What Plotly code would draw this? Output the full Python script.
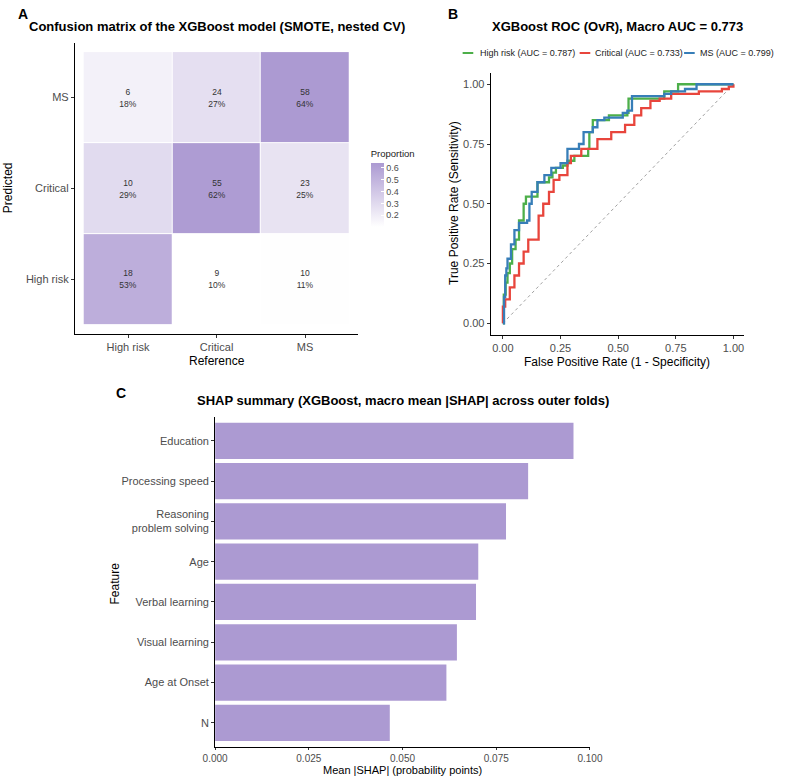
import plotly.graph_objects as go

W, H = 787, 777
def px(x): return x / W
def py(y): return 1 - y / H

# ---------------- data ----------------
classes = ["High risk", "Critical", "MS"]
# counts[predicted][reference]; predicted rows bottom->top: High risk, Critical, MS
counts_high = [18, 9, 10]
counts_critical = [10, 55, 23]
counts_ms = [6, 24, 58]

roc_high_fpr = [0, 0.004, 0.012, 0.02, 0.03, 0.04, 0.055, 0.07, 0.09, 0.1, 0.15, 0.2, 0.215, 0.23, 0.26, 0.28, 0.31, 0.37, 0.375, 0.39, 0.46, 0.54, 0.545, 0.70, 0.76, 1.0]
roc_high_tpr = [0, 0.12, 0.17, 0.21, 0.25, 0.31, 0.35, 0.43, 0.50, 0.53, 0.59, 0.61, 0.63, 0.65, 0.66, 0.68, 0.70, 0.73, 0.80, 0.85, 0.87, 0.88, 0.94, 0.97, 1.0, 1.0]
roc_crit_fpr = [0, 0, 0.01, 0.03, 0.05, 0.07, 0.09, 0.11, 0.155, 0.175, 0.2, 0.22, 0.245, 0.28, 0.295, 0.34, 0.41, 0.47, 0.53, 0.57, 0.60, 0.64, 0.68, 0.73, 0.85, 0.95, 0.98, 1.0]
roc_crit_tpr = [0, 0.07, 0.10, 0.15, 0.20, 0.25, 0.30, 0.35, 0.45, 0.50, 0.55, 0.60, 0.62, 0.67, 0.70, 0.73, 0.77, 0.80, 0.83, 0.87, 0.90, 0.93, 0.94, 0.96, 0.97, 0.98, 0.99, 1.0]
roc_ms_fpr = [0, 0.005, 0.01, 0.015, 0.02, 0.035, 0.05, 0.07, 0.105, 0.115, 0.125, 0.15, 0.18, 0.21, 0.25, 0.28, 0.33, 0.35, 0.39, 0.41, 0.44, 0.52, 0.54, 0.56, 0.70, 0.73, 0.79, 0.84, 1.0]
roc_ms_tpr = [0, 0.11, 0.20, 0.23, 0.27, 0.33, 0.39, 0.42, 0.43, 0.50, 0.55, 0.59, 0.62, 0.65, 0.67, 0.73, 0.75, 0.80, 0.82, 0.85, 0.86, 0.88, 0.89, 0.95, 0.96, 0.97, 0.98, 1.0, 1.0]
roc_labels = ["High risk (AUC = 0.787)", "Critical (AUC = 0.733)", "MS (AUC = 0.799)"]
roc_colors = ["#4DAF4A", "#E8453C", "#377EB8"]

features = ["Education", "Processing speed", "Reasoning<br>problem solving", "Age",
            "Verbal learning", "Visual learning", "Age at Onset", "N"]
shap_values = [0.0956, 0.0835, 0.0776, 0.0702, 0.0696, 0.0645, 0.0617, 0.0466]

# ---------------- derived ----------------
z_counts = [counts_high, counts_critical, counts_ms]
col_tot = [sum(r[j] for r in z_counts) for j in range(3)]
z_prop = [[r[j] / col_tot[j] for j in range(3)] for r in z_counts]
z_text = [[f"{r[j]}<br>{round(100 * r[j] / col_tot[j])}%" for j in range(3)] for r in z_counts]

FONT = "Liberation Sans, Arial, sans-serif"
TICK = dict(family=FONT, size=11, color="#4D4D4D")
PURPLE = "#AC9AD2"

fig = go.Figure()

fig.add_trace(go.Heatmap(
    x=classes, y=classes, z=z_prop, text=z_text, texttemplate="%{text}",
    textfont=dict(family=FONT, size=8.5, color="#333333"),
    colorscale=[[0, "#FFFFFF"], [1, PURPLE]], xgap=1, ygap=1,
    xaxis="x", yaxis="y", hoverinfo="skip",
    colorbar=dict(
        title=dict(text="Proportion", side="top", font=dict(family=FONT, size=9.5, color="#222")),
        thickness=13, len=80, lenmode="pixels", x=px(370), xanchor="left",
        y=py(147), yanchor="top", xpad=0, ypad=0, outlinewidth=0,
        tickvals=[0.2, 0.3, 0.4, 0.5, 0.6], ticks="inside", tickcolor="white", ticklen=3,
        tickfont=dict(family=FONT, size=9, color="#4D4D4D")),
))

fig.add_trace(go.Scatter(x=[0, 1], y=[0, 1], mode="lines", xaxis="x2", yaxis="y2",
                         line=dict(color="#A0A0A0", width=1, dash="dot"), showlegend=False, hoverinfo="skip"))
for fx, ty, c in [(roc_high_fpr, roc_high_tpr, roc_colors[0]),
                  (roc_crit_fpr, roc_crit_tpr, roc_colors[1]),
                  (roc_ms_fpr, roc_ms_tpr, roc_colors[2])]:
    fig.add_trace(go.Scatter(x=fx, y=ty, mode="lines", line=dict(color=c, width=2.3, shape="hv"),
                             xaxis="x2", yaxis="y2", showlegend=False))

fig.add_trace(go.Bar(x=shap_values, y=features, orientation="h", marker=dict(color=PURPLE, line=dict(width=0)),
                     width=0.9, xaxis="x3", yaxis="y3", showlegend=False))

axis_common = dict(showline=True, linecolor="black", linewidth=1, ticks="outside", ticklen=3,
                   tickcolor="#333333", tickfont=TICK, showgrid=False, zeroline=False, fixedrange=True)

fig.update_layout(
    width=W, height=H, margin=dict(l=0, r=0, t=0, b=0),
    paper_bgcolor="white", plot_bgcolor="white", showlegend=False,
    font=dict(family=FONT),
    xaxis=dict(domain=[px(64), px(357)], anchor="y", range=[-0.6, 2.6], type="category",
               categoryarray=classes, **axis_common),
    yaxis=dict(domain=[py(334), py(43)], anchor="x", range=[-0.6, 2.6], type="category",
               categoryarray=classes, **axis_common),
    xaxis2=dict(domain=[px(494), px(756)], anchor="y2", range=[-0.053, 1.046],
                tickvals=[0, 0.25, 0.5, 0.75, 1], tickformat=".2f", **axis_common),
    yaxis2=dict(domain=[py(335), py(73)], anchor="x2", range=[-0.049, 1.047],
                tickvals=[0, 0.25, 0.5, 0.75, 1], tickformat=".2f", **axis_common),
    yaxis3=dict(domain=[py(747), py(416.7)], anchor="x3", range=[7.6, -0.6], type="category",
                categoryarray=features, **axis_common),
)
x3_common = dict(axis_common)
x3_common.update(ticklen=2, tickfont=dict(family=FONT, size=10, color="#4D4D4D"))
fig.update_layout(xaxis3=dict(domain=[px(209), px(596.7)], anchor="y3", range=[0, 0.1],
                              tickvals=[0, 0.025, 0.05, 0.075, 0.1], tickformat=".3f", **x3_common))

ann = []
def text(x, y, s, size=12, bold=False, angle=0, xanchor="center", color="black"):
    ann.append(dict(x=px(x), y=py(y), xref="paper", yref="paper", text=f"<b>{s}</b>" if bold else s,
                    showarrow=False, textangle=angle, xanchor=xanchor, yanchor="middle",
                    font=dict(family=FONT, size=size, color=color)))

text(3, 14, "A", 14, True, xanchor="left")
text(448, 14, "B", 14, True, xanchor="left")
text(104, 393, "C", 14, True, xanchor="left")
text(211, 26, "Confusion matrix of the XGBoost model (SMOTE, nested CV)", 13, True)
text(625, 26, "XGBoost ROC (OvR), Macro AUC = 0.773", 13, True)
text(403, 400, "SHAP summary (XGBoost, macro mean |SHAP| across outer folds)", 13, True)
text(211, 361, "Reference", 12)
text(-5, 188, "Predicted", 12, angle=-90)
text(625, 362, "False Positive Rate (1 - Specificity)", 12)
text(456, 203, "True Positive Rate (Sensitivity)", 12, angle=-90)
text(403, 770, "Mean |SHAP| (probability points)", 11)
text(106, 583, "Feature", 12, angle=-90)

# ROC legend
leg_x = [(465, 481), (586, 600), (694, 708)]
shapes = []
for (lx, tx), lab, c in zip(leg_x, roc_labels, roc_colors):
    shapes.append(dict(type="line", xref="paper", yref="paper", x0=px(lx), x1=px(lx + 11),
                       y0=py(53), y1=py(53), line=dict(color=c, width=2)))
    text(tx, 53, lab, 9, xanchor="left", color="#222222")

fig.update_layout(annotations=ann, shapes=shapes)
fig.write_html("out.html")
